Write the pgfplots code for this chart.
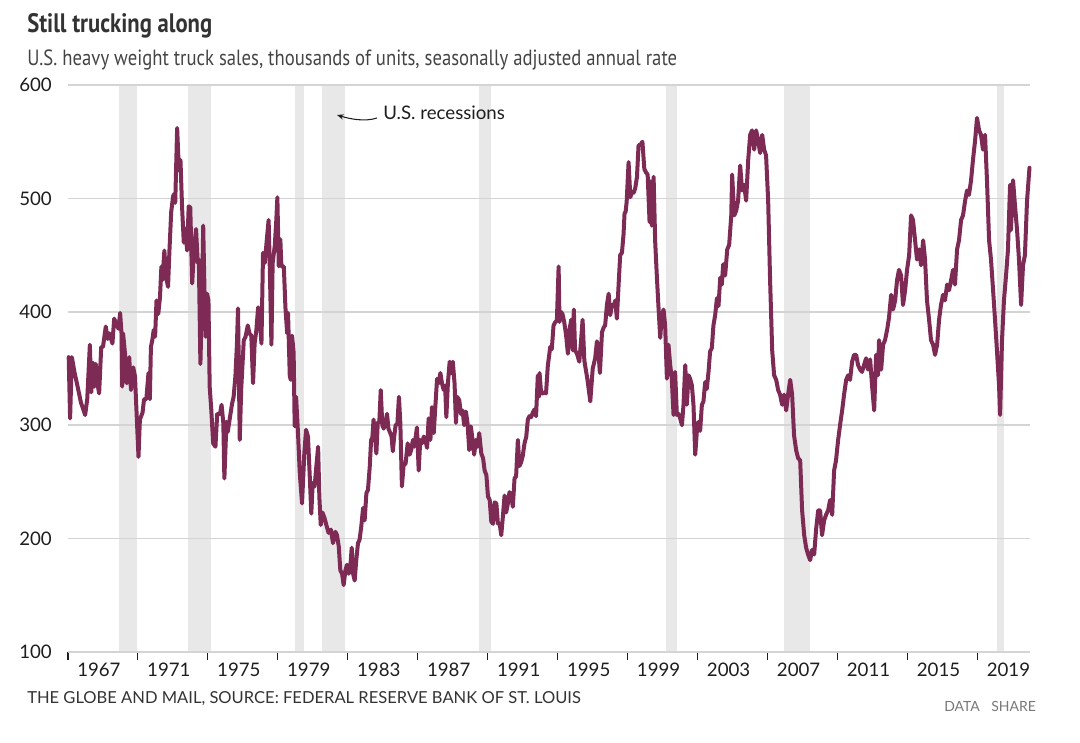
\documentclass[border=0pt]{standalone}
\usepackage{pgfplots}
\pgfplotsset{compat=1.18}
\usepackage{fontspec}
\usetikzlibrary{arrows.meta}
\setmainfont{Lato}
\newfontfamily\titlefont[FakeStretch=0.85]{PT Sans}
\definecolor{linec}{RGB}{125,42,85}
\definecolor{recc}{RGB}{232,232,232}
\definecolor{gridc}{RGB}{212,212,212}
\definecolor{titlec}{RGB}{51,51,51}
\definecolor{subc}{RGB}{68,68,68}
\definecolor{tickc}{RGB}{30,30,30}
\definecolor{datac}{RGB}{120,120,120}
\pgfplotsset{
  recession/.style={fill=recc, draw=none, forget plot}
}
\begin{document}
\begin{tikzpicture}
\begin{axis}[
  scale only axis,
  width=721.5pt, height=425.25pt,
  xmin=1967, xmax=2022, ymin=100, ymax=600,
  axis line style={draw=none},
  ytick={100,200,...,600},
  xtick={1967,1971,...,2019},
  xticklabels={1967,1971,1975,1979,1983,1987,1991,1995,1999,2003,2007,2011,2015,2019},
  xtick pos=bottom, tick align=outside,
  xtick style={tickc, line width=0.8pt},
  major tick length=6pt,
  ytick style={draw=none},
  /pgf/number format/assume math mode=true,
  tick label style={font=\fontsize{14}{16}\selectfont, text=tickc},
  yticklabel style={anchor=west, xshift=-30.75pt, inner sep=0pt},
  xticklabel style={anchor=north west, inner sep=0pt, xshift=6.75pt, yshift=-2pt},
  clip=false,
]
% recessions
\addplot[recession] coordinates {(1969.917,100) (1969.917,600) (1970.917,600) (1970.917,100)} -- cycle;
\addplot[recession] coordinates {(1973.833,100) (1973.833,600) (1975.167,600) (1975.167,100)} -- cycle;
\addplot[recession] coordinates {(1980.0,100) (1980.0,600) (1980.5,600) (1980.5,100)} -- cycle;
\addplot[recession] coordinates {(1981.5,100) (1981.5,600) (1982.833,600) (1982.833,100)} -- cycle;
\addplot[recession] coordinates {(1990.5,100) (1990.5,600) (1991.167,600) (1991.167,100)} -- cycle;
\addplot[recession] coordinates {(2001.167,100) (2001.167,600) (2001.833,600) (2001.833,100)} -- cycle;
\addplot[recession] coordinates {(2007.917,100) (2007.917,600) (2009.417,600) (2009.417,100)} -- cycle;
\addplot[recession] coordinates {(2020.1,100) (2020.1,600) (2020.5,600) (2020.5,100)} -- cycle;
% grid lines (drawn over the recession bands)
\pgfplotsinvokeforeach{100,200,300,400,500,600}{
  \addplot[gridc, line width=1.1pt, forget plot] coordinates {(1967,#1) (2022,#1)};
}
% truck sales
\addplot[linec, line width=3pt, line join=round, line cap=round] table {
1967.04 360
1967.12 306
1967.22 360
1967.38 346
1967.55 334
1967.74 320
1967.98 309
1968.10 323
1968.25 371
1968.33 329
1968.44 355
1968.51 334
1968.59 354
1968.68 337
1968.78 328
1968.90 369
1969.00 369
1969.16 387
1969.27 376
1969.37 381
1969.54 372
1969.64 394
1969.77 389
1969.89 385
1969.98 399
1970.06 381
1970.10 334
1970.15 381
1970.26 363
1970.36 337
1970.50 360
1970.60 331
1970.73 351
1970.83 343
1971.03 272
1971.11 305
1971.26 311
1971.35 323
1971.48 323
1971.60 346
1971.68 323
1971.74 369
1971.82 375
1971.90 384
1971.98 378
1972.06 410
1972.16 398
1972.26 413
1972.34 440
1972.40 428
1972.51 454
1972.60 431
1972.72 422
1972.80 454
1972.90 488
1973.01 502
1973.08 504
1973.13 496
1973.24 562
1973.34 525
1973.43 534
1973.52 493
1973.62 461
1973.71 473
1973.81 454
1973.90 493
1973.99 492
1974.10 425
1974.20 454
1974.32 473
1974.42 443
1974.48 446
1974.57 354
1974.67 419
1974.73 476
1974.81 413
1974.87 378
1974.95 416
1975.03 410
1975.10 334
1975.19 314
1975.30 284
1975.43 281
1975.53 310
1975.69 310
1975.78 318
1975.88 302
1975.94 253
1976.06 303
1976.13 294
1976.22 303
1976.38 319
1976.47 325
1976.57 343
1976.66 372
1976.72 403
1976.82 287
1976.90 331
1977.05 375
1977.15 378
1977.28 388
1977.37 381
1977.48 379
1977.58 337
1977.67 372
1977.77 384
1977.87 404
1977.96 395
1978.06 372
1978.15 452
1978.25 443
1978.38 466
1978.47 481
1978.54 437
1978.63 371
1978.70 443
1978.82 458
1978.91 481
1978.97 501
1979.05 440
1979.14 464
1979.20 440
1979.34 440
1979.43 404
1979.53 381
1979.58 399
1979.68 343
1979.74 340
1979.81 379
1979.90 364
1979.96 299
1980.04 325
1980.15 293
1980.25 258
1980.38 231
1980.51 275
1980.61 296
1980.72 290
1980.83 252
1980.91 222
1980.99 249
1981.10 246
1981.20 264
1981.30 281
1981.37 237
1981.45 212
1981.55 223
1981.67 218
1981.77 212
1981.90 205
1982.03 208
1982.15 196
1982.29 206
1982.38 203
1982.48 193
1982.57 172
1982.67 169
1982.76 159
1982.86 172
1982.95 177
1983.05 169
1983.14 175
1983.22 192
1983.30 169
1983.39 163
1983.48 181
1983.58 196
1983.67 199
1983.77 211
1983.87 227
1983.96 216
1984.06 240
1984.15 243
1984.25 263
1984.33 287
1984.40 289
1984.47 305
1984.57 287
1984.63 275
1984.71 302
1984.80 303
1984.88 331
1984.97 300
1985.05 297
1985.14 302
1985.24 310
1985.32 297
1985.40 294
1985.50 290
1985.57 277
1985.65 290
1985.73 300
1985.83 301
1985.92 325
1986.00 302
1986.09 246
1986.19 265
1986.30 266
1986.42 284
1986.53 274
1986.62 278
1986.72 287
1986.80 281
1986.95 298
1987.05 260
1987.14 287
1987.24 284
1987.34 290
1987.43 287
1987.53 280
1987.62 306
1987.72 287
1987.81 316
1987.91 293
1988.00 316
1988.10 341
1988.19 337
1988.29 346
1988.38 337
1988.48 331
1988.56 335
1988.63 307
1988.72 337
1988.82 356
1988.91 346
1989.00 356
1989.10 337
1989.18 302
1989.25 325
1989.37 322
1989.46 310
1989.56 313
1989.65 300
1989.75 312
1989.84 302
1989.94 278
1990.03 299
1990.13 287
1990.22 274
1990.32 287
1990.41 281
1990.51 293
1990.63 275
1990.73 271
1990.82 260
1990.92 256
1991.01 237
1991.11 234
1991.20 215
1991.30 213
1991.39 232
1991.49 231
1991.58 213
1991.68 213
1991.77 203
1991.86 219
1991.96 238
1992.05 223
1992.15 231
1992.24 241
1992.34 238
1992.43 228
1992.53 253
1992.62 255
1992.72 287
1992.81 264
1992.90 267
1993.00 273
1993.10 284
1993.20 290
1993.29 305
1993.38 308
1993.48 307
1993.57 311
1993.67 314
1993.76 308
1993.86 344
1993.92 325
1993.96 346
1994.05 328
1994.14 328
1994.24 329
1994.33 328
1994.43 352
1994.57 369
1994.66 367
1994.76 388
1994.86 391
1994.95 392
1995.05 440
1995.10 391
1995.18 400
1995.27 398
1995.37 391
1995.48 379
1995.58 363
1995.67 384
1995.77 393
1995.86 366
1995.92 402
1995.99 366
1996.10 363
1996.23 356
1996.32 372
1996.42 393
1996.52 357
1996.70 340
1996.86 321
1997.00 350
1997.14 359
1997.24 374
1997.32 366
1997.41 346
1997.53 382
1997.62 386
1997.71 388
1997.81 406
1997.91 416
1998.00 397
1998.10 406
1998.19 405
1998.29 410
1998.38 394
1998.48 424
1998.57 450
1998.67 452
1998.76 468
1998.82 487
1998.88 488
1998.94 497
1999.05 532
1999.15 501
1999.24 506
1999.34 505
1999.43 509
1999.53 519
1999.62 547
1999.72 547
1999.84 550
1999.95 526
2000.04 523
2000.14 521
2000.25 479
2000.31 515
2000.38 476
2000.48 519
2000.57 462
2000.67 430
2000.76 404
2000.86 377
2000.95 397
2001.05 402
2001.14 388
2001.24 341
2001.33 371
2001.43 353
2001.52 341
2001.62 309
2001.71 347
2001.81 309
2001.90 310
2002.00 306
2002.10 300
2002.19 318
2002.29 353
2002.38 318
2002.48 344
2002.57 341
2002.67 335
2002.76 318
2002.86 274
2002.95 294
2003.05 303
2003.14 295
2003.24 318
2003.33 321
2003.43 338
2003.52 332
2003.62 347
2003.71 365
2003.81 368
2003.90 388
2004.00 397
2004.10 412
2004.19 405
2004.29 430
2004.38 424
2004.46 442
2004.57 432
2004.69 455
2004.80 459
2004.92 485
2004.97 521
2005.09 485
2005.20 489
2005.31 498
2005.43 529
2005.54 507
2005.66 512
2005.77 498
2005.89 534
2006.00 556
2006.11 560
2006.23 543
2006.34 560
2006.46 551
2006.57 540
2006.69 556
2006.80 543
2006.91 538
2007.03 498
2007.14 428
2007.26 366
2007.37 344
2007.49 340
2007.60 331
2007.71 327
2007.83 318
2007.94 327
2008.06 313
2008.17 327
2008.29 340
2008.40 327
2008.51 291
2008.63 278
2008.74 271
2008.86 269
2008.97 225
2009.09 203
2009.20 192
2009.31 186
2009.43 181
2009.54 190
2009.66 186
2009.77 208
2009.89 225
2010.00 225
2010.11 203
2010.23 216
2010.34 221
2010.46 225
2010.57 234
2010.69 221
2010.80 260
2010.91 269
2011.03 287
2011.14 300
2011.26 313
2011.37 327
2011.49 340
2011.60 344
2011.71 340
2011.83 356
2011.94 362
2012.06 362
2012.17 353
2012.29 349
2012.40 347
2012.51 353
2012.63 359
2012.74 349
2012.86 358
2012.97 335
2013.09 313
2013.20 362
2013.31 344
2013.37 375
2013.49 349
2013.60 371
2013.71 375
2013.83 384
2013.94 395
2014.06 415
2014.17 402
2014.29 410
2014.40 428
2014.51 437
2014.63 432
2014.74 406
2014.86 419
2014.97 437
2015.09 450
2015.20 485
2015.31 481
2015.43 463
2015.54 446
2015.66 455
2015.77 441
2015.89 463
2016.00 446
2016.11 410
2016.23 393
2016.34 375
2016.46 371
2016.57 362
2016.69 371
2016.80 393
2016.91 406
2017.03 415
2017.14 410
2017.26 424
2017.37 419
2017.49 428
2017.60 437
2017.71 424
2017.83 455
2017.94 463
2018.06 481
2018.17 485
2018.29 498
2018.40 507
2018.51 503
2018.63 516
2018.74 534
2018.86 551
2018.97 571
2019.09 560
2019.20 556
2019.31 543
2019.43 556
2019.54 516
2019.66 463
2019.77 446
2019.89 419
2020.00 393
2020.11 366
2020.23 335
2020.29 309
2020.40 375
2020.51 410
2020.63 432
2020.74 455
2020.86 512
2020.91 472
2021.03 516
2021.14 494
2021.26 472
2021.37 446
2021.49 406
2021.60 441
2021.71 450
2021.83 498
2021.97 527
};
\end{axis}
% texts
\node[anchor=base west, inner sep=0pt, text=titlec, font=\titlefont\bfseries\fontsize{20}{22}\selectfont] at (-30.75pt,464.25pt) {Still trucking along};
\node[anchor=base west, inner sep=0pt, text=subc, font=\titlefont\fontsize{16.5}{18}\selectfont] at (-30.75pt,439.5pt) {U.S. heavy weight truck sales, thousands of units, seasonally adjusted annual rate};
\node[anchor=base west, inner sep=0pt, text=titlec, font=\fontsize{12.4}{14}\selectfont] at (-30.75pt,-38.25pt) {THE GLOBE AND MAIL, SOURCE: FEDERAL RESERVE BANK OF ST. LOUIS};
\node[anchor=base west, inner sep=0pt, text=datac, font=\fontsize{10.5}{12}\selectfont] at (657pt,-44.25pt) {DATA};
\node[anchor=base west, inner sep=0pt, text=datac, font=\fontsize{10.5}{12}\selectfont] at (692.25pt,-44.25pt) {SHARE};
\node[anchor=base west, inner sep=0pt, text=tickc, font=\fontsize{14}{16}\selectfont] at (236.25pt,399pt) {U.S. recessions};
\draw[tickc, line width=0.8pt, -{Stealth[length=5pt,width=4pt]}] (231.75pt,400.5pt) .. controls (222.75pt,397.5pt) and (211.5pt,399.75pt) .. (201.75pt,402.75pt);
\pgfresetboundingbox
\path[use as bounding box] (-51pt,-67.5pt) rectangle (759pt,489pt);
\end{tikzpicture}
\end{document}
